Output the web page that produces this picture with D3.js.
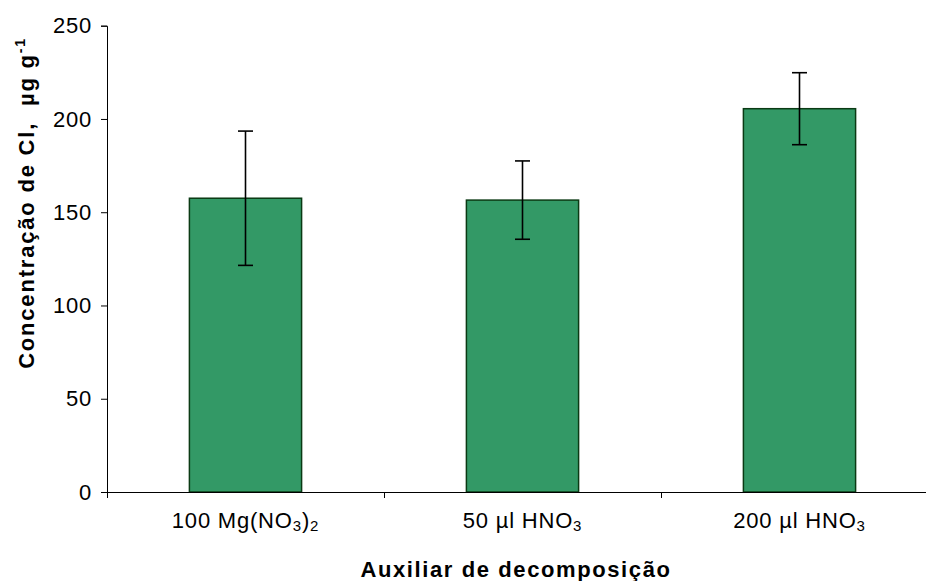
<!DOCTYPE html>
<html>
<head>
<meta charset="utf-8">
<script src="https://cdn.jsdelivr.net/npm/d3@7"></script>
<style>
  html, body { margin: 0; padding: 0; background: #fff; }
  svg { display: block; font-family: "Liberation Sans", Arial, sans-serif; }
</style>
</head>
<body>
<svg id="chart"></svg>
<script>
// dados do gráfico
const categories = ["100 Mg(NO3)2", "50 µl HNO3", "200 µl HNO3"];
// partes do rótulo: [texto, subscrito?]
const labelParts = [
    [["100 Mg(NO", false], ["3", true], [")", false], ["2", true]],
    [["50 µl HNO", false], ["3", true]],
    [["200 µl HNO", false], ["3", true]]
];
const values = [157.5, 156.5, 205.5];
const errors = [36, 21, 19.3];
const yTicks = [0, 50, 100, 150, 200, 250];

const width = 926;
const height = 581;

const svg = d3.select("#chart")
    .attr("width", width)
    .attr("height", height);

// escalas
const x = d3.scaleBand()
    .domain(categories)
    .range([107, 938])
    .paddingInner(0)
    .paddingOuter(0);

const xEdges = d3.scaleLinear()
    .domain([0, categories.length])
    .range(x.range());

const y = d3.scaleLinear()
    .domain([0, 250])
    .range([492, 25.7]);

const barW = x.bandwidth() * 0.405;

// barras
svg.append("g")
    .selectAll("rect")
    .data(values)
    .join("rect")
    .attr("x", (d, i) => x(categories[i]) + x.bandwidth() / 2 - barW / 2)
    .attr("y", d => y(d))
    .attr("width", barW)
    .attr("height", d => y(0) - y(d))
    .attr("fill", "#339966")
    .attr("stroke", "#0b3a14")
    .attr("stroke-width", 1.5);

// barras de erro
const eb = svg.append("g")
    .attr("stroke", "#000")
    .attr("stroke-width", 1.6);

values.forEach((v, i) => {
    const cx = x(categories[i]) + x.bandwidth() / 2;
    eb.append("line")
        .attr("x1", cx).attr("x2", cx)
        .attr("y1", y(v + errors[i])).attr("y2", y(v - errors[i]));
    [v + errors[i], v - errors[i]].forEach(e => {
        eb.append("line")
            .attr("x1", cx - 7.5).attr("x2", cx + 7.5)
            .attr("y1", y(e)).attr("y2", y(e));
    });
});

// eixo Y
const yAxis = svg.append("g")
    .attr("transform", "translate(107,0)")
    .call(d3.axisLeft(y).tickValues(yTicks).tickSize(6).tickPadding(9));

yAxis.attr("font-family", null);
yAxis.selectAll("text")
    .style("font-size", "22px")
    .style("letter-spacing", "0.8px")
    .attr("fill", "#000");

// eixo X (marcas nos limites das categorias)
const xAxis = svg.append("g")
    .attr("transform", "translate(0,492)")
    .call(d3.axisBottom(xEdges).ticks(categories.length).tickFormat("").tickSize(6).tickSizeOuter(0));

svg.selectAll(".domain, .tick line").attr("stroke", "#000");

// rótulos das categorias
const labels = svg.append("g")
    .selectAll("text")
    .data(labelParts)
    .join("text")
    .attr("x", (d, i) => x(categories[i]) + x.bandwidth() / 2)
    .attr("y", 528)
    .attr("text-anchor", "middle")
    .style("font-size", "22px")
    .style("letter-spacing", "0.8px");

labels.each(function (parts) {
    const t = d3.select(this);
    let shifted = false;
    parts.forEach(([txt, sub]) => {
        const s = t.append("tspan").text(txt);
        if (sub && !shifted) { s.attr("dy", 3).style("font-size", "15px"); shifted = true; }
        else if (sub) { s.style("font-size", "15px"); }
        else if (shifted) { s.attr("dy", -3); shifted = false; }
    });
});

// título do eixo X
svg.append("text")
    .attr("x", 516)
    .attr("y", 577)
    .attr("text-anchor", "middle")
    .style("font-size", "22px")
    .style("font-weight", "bold")
    .style("letter-spacing", "1.6px")
    .text("Auxiliar de decomposição");

// título do eixo Y
const yt = svg.append("text")
    .attr("transform", "translate(34,203) rotate(-90)")
    .attr("text-anchor", "middle")
    .style("font-size", "22px")
    .style("font-weight", "bold")
    .style("letter-spacing", "1.8px")
    .style("white-space", "pre");

yt.append("tspan").text("Concentração de Cl,  µg g");
yt.append("tspan").attr("dy", -9).style("font-size", "14px").text("-1");
</script>
</body>
</html>
